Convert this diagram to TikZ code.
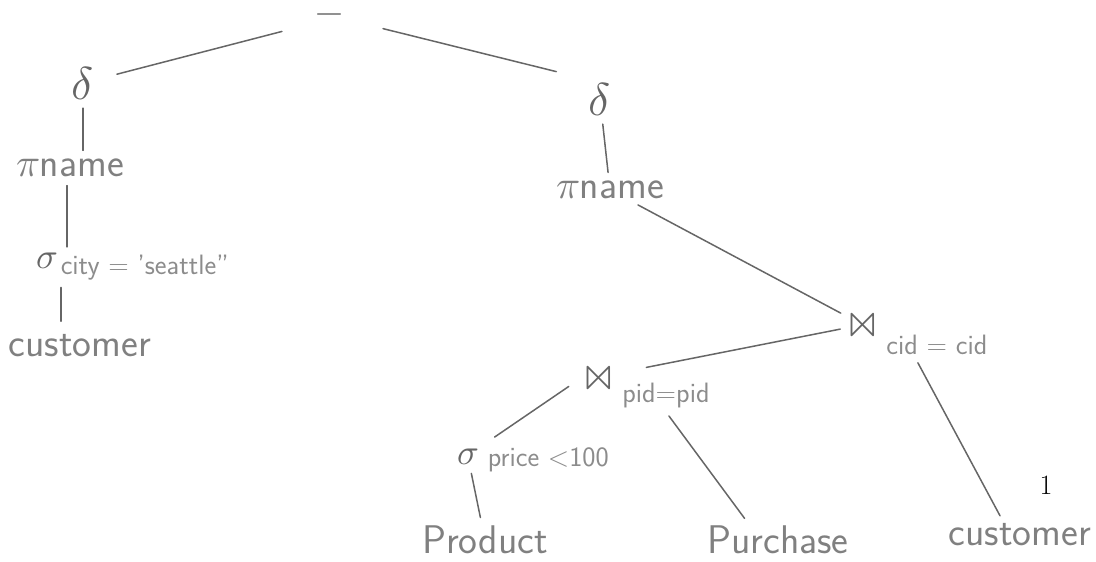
\documentclass[tikz,border=0pt]{standalone}
\usepackage{fontspec}
\usepackage{unicode-math}
\usetikzlibrary{positioning}

\begin{document}
\begin{tikzpicture}[
x=1pt, y=-1pt,
op/.style={text=black!60, font=\fontsize{36}{38}\selectfont},
bigop/.style={op, font=\fontsize{46}{48}\selectfont},
rel/.style={text=black!50, font=\sffamily\fontsize{40}{42}\selectfont},
cond/.style={text=black!45, font=\sffamily\fontsize{28}{30}\selectfont},
line/.style={draw=black!60, line width=1.5pt, line cap=round, shorten >=5pt, shorten <=5pt}
]
\useasboundingbox (0,0) rectangle (1096,562);

\node[op, inner sep=0pt] (top) at (330,19) {$-$};
\node[bigop] (dl) at (83,83) {$\delta$};
\node[rel] (pl) at (70,168) {$\pi$name};
\node[op] (s1) at (47,261) {$\sigma$};
\node[cond, right=-4pt of s1, yshift=-7pt] (s1c) {city = 'seattle''};
\node[rel] (c1) at (80,346) {customer};

\node[bigop] (dr) at (600,99) {$\delta$};
\node[rel] (pr) at (610,190) {$\pi$name};
\node[bigop] (j1) at (863,325) {$\bowtie$};
\node[cond, right=2pt of j1, yshift=-20pt] (j1c) {cid = cid};
\node[bigop] (j2) at (599,378) {$\bowtie$};
\node[cond, right=2pt of j2, yshift=-18pt] (j2c) {pid=pid};
\node[op] (s2) at (468,457) {$\sigma$};
\node[cond, right=2pt of s2, yshift=-3pt] (s2c) {price <100};
\node[rel] (p) at (485,540) {Product};
\node[rel] (u) at (778,540) {Purchase};
\node[rel] (c2) at (1020,535) {customer};
\node[font=\fontsize{28}{30}\selectfont] (pg) at (1046,485) {1};

\draw[line, shorten <=35pt, shorten >=20pt] (top) -- (dl);
\draw[line, shorten <=40pt, shorten >=30pt] (top.east) -- (dr.north west);
\draw[line] (dl) -- (dl |- pl.north);
\draw[line] ([xshift=10pt]s1c.north west |- pl.south) -- ([xshift=10pt]s1c.north west);
\draw[line, shorten <=15pt, shorten >=10pt] (s1.south east) -- (s1.south east |- c1.north);
\draw[line] (dr) -- (pr);
\draw[line] (pr) -- (j1);
\draw[line, shorten >=30pt] (j1.190) -- (j2.15);
\draw[line] (j1c.212) -- (c2.140);
\draw[line, shorten <=15pt, shorten >=15pt] (j2.west) -- (s2.north east);
\draw[line] (s2) -- (p);
\draw[line] (j2c.south) -- (u.150);
\end{tikzpicture}
\end{document}
